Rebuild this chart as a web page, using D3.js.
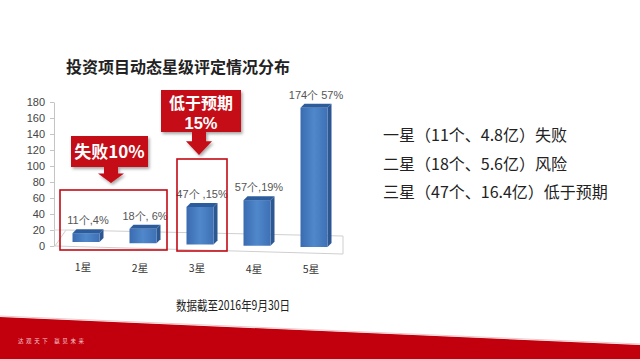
<!DOCTYPE html>
<html><head><meta charset="utf-8">
<script src="https://cdn.jsdelivr.net/npm/d3@7"></script>
<style>html,body{margin:0;padding:0;background:#fff;overflow:hidden}</style>
</head><body><svg id="c" width="640" height="359"></svg>
<script>
const title = "投资项目动态星级评定情况分布";
const categories = ["1星","2星","3星","4星","5星"];
const counts = [11,18,47,57,174];
const valueLabels = ["11个,4%","18个, 6%","47个 ,15%","57个,19%","174个 57%"];
const yTicks = [0,20,40,60,80,100,120,140,160,180];
const callout1 = ["失败10%"];
const callout2 = ["低于预期","15%"];
const legendLines = ["一星（11个、4.8亿）失败","二星（18个、5.6亿）风险","三星（47个、16.4亿）低于预期"];
const footnote = "数据截至2016年9月30日";
const slogan = "达观天下  赢见未来";

const svg = d3.select("#c");
const CJK = "'Noto Sans CJK SC','Noto Sans',sans-serif";
const LAT = "'Liberation Sans',Arial,sans-serif";

const defs = svg.append("defs");
const g1 = defs.append("linearGradient").attr("id","front").attr("x1","0").attr("x2","1").attr("y1","0").attr("y2","0");
g1.append("stop").attr("offset","0").attr("stop-color","#3a6bb0");
g1.append("stop").attr("offset","0.5").attr("stop-color","#5088cc");
g1.append("stop").attr("offset","1").attr("stop-color","#3e70b5");
const sh = defs.append("filter").attr("id","sh").attr("x","-20%").attr("y","-20%").attr("width","140%").attr("height","150%");
sh.append("feDropShadow").attr("dx",1.5).attr("dy",2).attr("stdDeviation",1.5).attr("flood-color","#000").attr("flood-opacity",0.35);

// title
svg.append("text").attr("x",178).attr("y",73).attr("text-anchor","middle")
  .attr("font-family",CJK).attr("font-weight","bold").attr("font-size",16).attr("fill","#222").text(title);

// scales
const y = d3.scaleLinear().domain([0,180]).range([246,102]);
const x = d3.scalePoint().domain(categories).range([86,314]);
const bw = 27, depth = 4;

// axis
const ax = svg.append("g").attr("transform","translate(54,0)")
  .call(d3.axisLeft(y).tickValues(yTicks).tickSize(4).tickPadding(5).tickSizeOuter(0));
ax.select(".domain").attr("stroke","#c4c4c4");
ax.selectAll(".tick line").attr("stroke","#c4c4c4");
ax.selectAll(".tick text").attr("font-family",LAT).attr("font-size",11).attr("fill","#444");

// floor
const fl = [[55,246],[66,y(20)],[343,236],[343,254]];
svg.append("path").attr("d","M"+fl.map(p=>p.join(",")).join("L")+"Z")
  .attr("fill","none").attr("stroke","#cfcfcf").attr("stroke-width",1);
svg.append("line").attr("x1",54).attr("x2",66).attr("y1",y(20)).attr("y2",y(20)).attr("stroke","#d8d8d8");

// bars
const bars = svg.append("g");
categories.forEach((c,i)=>{
  const x0 = x(c) - bw/2;
  const bottom = 242 + i*1.25;
  const top = bottom - (y(0) - y(counts[i]));
  bars.append("path").attr("d",`M${x0+bw},${top}L${x0+bw+depth},${top-depth}L${x0+bw+depth},${bottom-depth}L${x0+bw},${bottom}Z`).attr("fill","#2c5791");
  bars.append("rect").attr("x",x0).attr("y",top).attr("width",bw).attr("height",bottom-top).attr("fill","url(#front)");
  bars.append("path").attr("d",`M${x0},${top}L${x0+bw},${top}L${x0+bw+depth},${top-depth}L${x0+depth},${top-depth}Z`).attr("fill","#2d5c9c");
  svg.append("text").attr("x",x(c)+2).attr("y",top-9).attr("text-anchor","middle")
    .attr("font-family",LAT).attr("font-size",11).attr("fill","#555").text(valueLabels[i]);
  svg.append("text").attr("x",x(c)-3).attr("y",271+i*0.6).attr("text-anchor","middle")
    .attr("font-family",CJK).attr("font-size",10.5).attr("fill","#333").text(c);
});

// red outline boxes
const red = "#c40a14";
svg.append("rect").attr("x",x("1星")-26).attr("y",190).attr("width",x("2星")+24-(x("1星")-26)).attr("height",60)
  .attr("fill","none").attr("stroke",red).attr("stroke-width",1.6);
svg.append("rect").attr("x",x("3星")-23).attr("y",159).attr("width",50).attr("height",92)
  .attr("fill","none").attr("stroke",red).attr("stroke-width",1.6);

// callouts
function callout(rx,ry,rw,rh,tipX,tipY,lines,ly){
  const g = svg.append("g").attr("filter","url(#sh)");
  const cx = tipX, sw = 7, hw = 13, neck = ry+rh+(tipY-ry-rh)*0.4;
  g.append("rect").attr("x",rx).attr("y",ry).attr("width",rw).attr("height",rh).attr("fill",red);
  g.append("path").attr("d",`M${cx-sw},${ry+rh}L${cx+sw},${ry+rh}L${cx+sw},${neck}L${cx+hw},${neck}L${cx},${tipY}L${cx-hw},${neck}L${cx-sw},${neck}Z`).attr("fill",red);
  lines.forEach((s,k)=>{
    const cjk = /[\u4e00-\u9fff]/.test(s);
    svg.append("text").attr("x",rx+rw/2).attr("y",ly[k]).attr("text-anchor","middle")
      .attr("font-family",cjk?CJK:LAT).attr("font-weight","bold").attr("font-size",cjk?(lines.length>1?16:17):16.5)
      .attr("fill","#fff").text(s);
  });
}
callout(71,136,77,31,111,183,callout1,[158]);
callout(161,90,80,42,199,155,callout2,[109,128.5]);

// legend text
legendLines.forEach((t,k)=>{
  svg.append("text").attr("x",383).attr("y",141+k*28.5)
    .attr("font-family",CJK).attr("font-size",16).attr("fill","#222").text(t);
});

// footnote
svg.append("text").attr("x",176).attr("y",310)
  .attr("font-family",CJK).attr("font-size",13).attr("fill","#222")
  .attr("textLength",114).attr("lengthAdjust","spacingAndGlyphs").text(footnote);

// bottom band
svg.append("path").attr("d","M0,317L640,345L640,359L0,359Z").attr("fill","#c2000d");
svg.append("path").attr("d","M0,316L640,344").attr("stroke","#e8b8bb").attr("stroke-width",0.8);
svg.append("text").attr("x",18).attr("y",343).attr("font-family",CJK).attr("font-size",5.5)
  .attr("letter-spacing",2.6).attr("fill","#f3c9cc").text(slogan);
</script></body></html>
